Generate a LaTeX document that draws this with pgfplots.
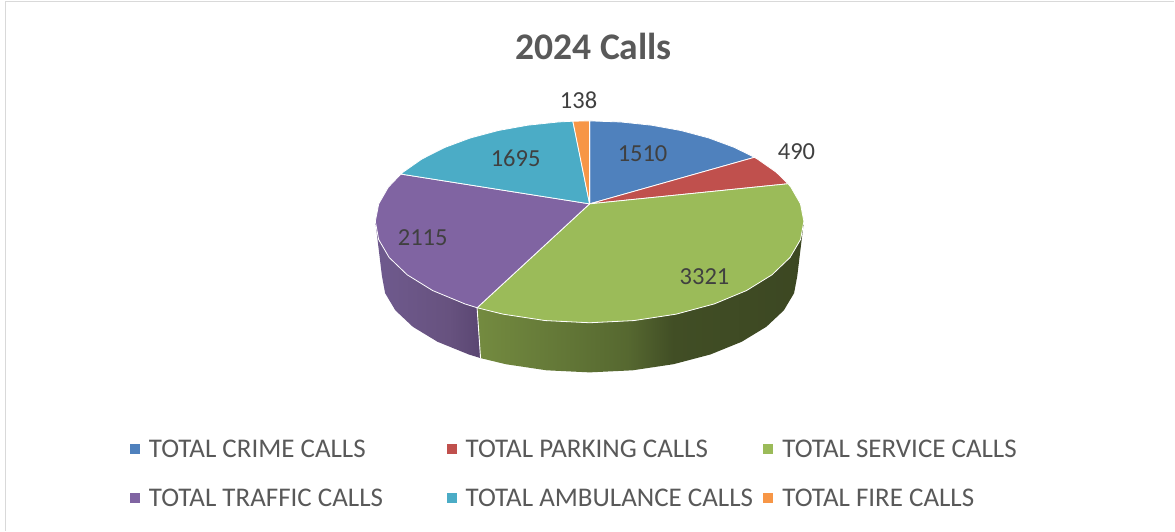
\documentclass[border=0pt]{standalone}
\usepackage{pgfplots}
\pgfplotsset{compat=1.18}
\usepackage{fontspec}
\setmainfont{Carlito}
\definecolor{cblue}{HTML}{4F81BD}
\definecolor{cred}{HTML}{C0504D}
\definecolor{cgreen}{HTML}{9BBB59}
\definecolor{cpurple}{HTML}{8064A2}
\definecolor{ccyan}{HTML}{4BACC6}
\definecolor{corange}{HTML}{F79646}
\definecolor{ctext}{HTML}{595959}
\definecolor{clabel}{HTML}{404040}
\definecolor{ga}{HTML}{748B40}
\definecolor{gb}{HTML}{566830}
\definecolor{gc}{HTML}{414E25}
\definecolor{gd}{HTML}{3C4722}
\definecolor{pa}{HTML}{6F5A8E}
\definecolor{pb}{HTML}{67527F}
\definecolor{pc}{HTML}{5A4672}
\pgfdeclarehorizontalshading{greenside}{100bp}{color(0bp)=(ga); color(25bp)=(ga); color(48bp)=(gb); color(55bp)=(gc); color(75bp)=(gd); color(100bp)=(gd)}
\pgfdeclarehorizontalshading{purpleside}{100bp}{color(0bp)=(pa); color(25bp)=(pa); color(60bp)=(pb); color(75bp)=(pc); color(100bp)=(pc)}
\begin{document}
\begin{tikzpicture}
\begin{axis}[
 scale only axis, width=1175pt, height=531pt,
 xmin=0, xmax=1175, ymin=0, ymax=531, y dir=reverse,
 axis lines=none, clip=false,
 legend columns=3,
 legend cell align=left,
 legend image code/.code={\fill[#1,draw=none] (0pt,-5pt) rectangle (10pt,5pt);},
 legend style={at={(axis cs:130,438)}, anchor=north west, draw=none, fill=none,
   font=\fontsize{27}{28}\selectfont\color{ctext}, inner sep=0pt, outer sep=0pt, row sep=26pt,
   /tikz/every odd column/.append style={column sep=7pt},
   /tikz/every even column/.append style={column sep=0pt}},
]
% page extent
\addplot[forget plot, draw=none, mark=none] coordinates {(0,0) (1175,531)};
% frame
\addplot[forget plot, color=black!15, line width=1.6pt, mark=none] coordinates {(5.5,531) (5.5,1.5) (1175,1.5)};
% side walls
\addplot[forget plot, mark=none, draw=none, shading=purpleside, shading angle=0] coordinates {
 (375.58,221.52) (378.87,239.62) (389.42,257.68) (407.48,274.99) (432.96,290.75) (465.27,304.13) (477.41,307.94)
 (480.88,358.34) (469.12,354.72) (437.79,341.99) (413.10,327.00) (395.60,310.54) (385.38,293.37) (382.18,276.16) (375.58,221.52)};
\addplot[forget plot, mark=none, draw=none, shading=greenside, shading angle=0] coordinates {
 (804.42,221.52) (801.13,239.62) (790.58,257.68) (772.52,274.99) (747.04,290.75) (714.73,304.13) (676.66,314.36) (634.43,320.79) (590,322.98) (545.57,320.79) (503.34,314.36) (477.41,307.94)
 (480.88,358.34) (506.01,364.44) (546.94,370.56) (590,372.64) (633.06,370.56) (673.99,364.44) (710.88,354.72) (742.21,341.99) (766.90,327.00) (784.40,310.54) (794.62,293.37) (797.82,276.16) (804.42,221.52)};
\addplot[forget plot, mark=none, draw=white, line width=0.9pt] coordinates {(477.41,307.94) (480.88,358.34)};
% top surface
\addplot[mark=none, fill=cblue, draw=white, line width=0.8pt, line join=round] coordinates {
 (590,204) (590,120.98) (621.18,122.05) (651.83,125.27) (681.41,130.61) (709.35,138.07) (735.04,147.59) (754.92,157.43) (590,204)};
\addlegendentry{\makebox[296pt][l]{TOTAL CRIME CALLS}}
\addplot[mark=none, fill=cred, draw=white, line width=0.8pt, line join=round] coordinates {
 (590,204) (754.92,157.43) (757.80,159.10) (776.90,172.47) (788.60,183.89) (590,204)};
\addlegendentry{\makebox[296pt][l]{TOTAL PARKING CALLS}}
\addplot[mark=none, fill=cgreen, draw=white, line width=0.8pt, line join=round] coordinates {
 (590,204) (788.60,183.89) (791.56,187.53) (801,204) (804.42,221.52) (801.13,239.62) (790.58,257.68) (772.52,274.99) (747.04,290.75) (714.73,304.13) (676.66,314.36) (634.43,320.79) (590,322.98) (545.57,320.79) (503.34,314.36) (477.41,307.94) (590,204)};
\addlegendentry{TOTAL SERVICE CALLS}
\addplot[mark=none, fill=cpurple, draw=white, line width=0.8pt, line join=round] coordinates {
 (590,204) (477.41,307.94) (465.27,304.13) (432.96,290.75) (407.48,274.99) (389.42,257.68) (378.87,239.62) (375.58,221.52) (379,204) (388.44,187.53) (401.11,174.18) (590,204)};
\addlegendentry{TOTAL TRAFFIC CALLS}
\addplot[mark=none, fill=ccyan, draw=white, line width=0.8pt, line join=round] coordinates {
 (590,204) (401.11,174.18) (403.10,172.47) (422.20,159.10) (444.96,147.59) (470.65,138.07) (498.59,130.61) (528.17,125.27) (558.82,122.05) (573.26,121.29) (590,204)};
\addlegendentry{TOTAL AMBULANCE CALLS}
\addplot[mark=none, fill=corange, draw=white, line width=0.8pt, line join=round] coordinates {
 (590,204) (573.26,121.29) (590,120.98) (590,204)};
\addlegendentry{TOTAL FIRE CALLS}
% texts
\node[font=\fontsize{37.6}{40}\selectfont\bfseries, text=ctext] at (axis cs:594,46) {2024 Calls};
\node[font=\fontsize{24.5}{26}\selectfont, text=clabel] at (axis cs:643,154) {1510};
\node[font=\fontsize{24.5}{26}\selectfont, text=clabel] at (axis cs:797,152) {490};
\node[font=\fontsize{24.5}{26}\selectfont, text=clabel] at (axis cs:705,277) {3321};
\node[font=\fontsize{24.5}{26}\selectfont, text=clabel] at (axis cs:423,238) {2115};
\node[font=\fontsize{24.5}{26}\selectfont, text=clabel] at (axis cs:516,158) {1695};
\node[font=\fontsize{24.5}{26}\selectfont, text=clabel] at (axis cs:579,100) {138};
\end{axis}
\end{tikzpicture}
\end{document}
